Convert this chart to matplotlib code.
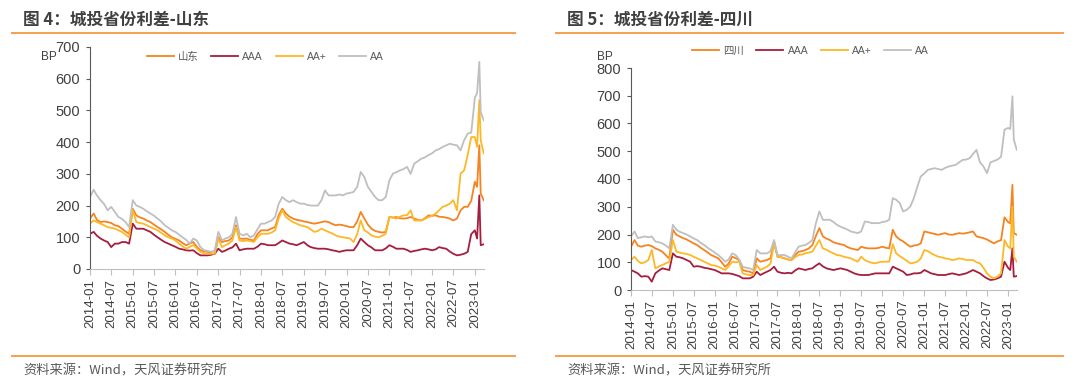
import numpy as np
import pandas as pd
import matplotlib
matplotlib.use('Agg')
import matplotlib.pyplot as plt
import matplotlib.dates as mdates
from matplotlib.lines import Line2D

W, H = 1080, 385

# dates: monthly to 2022-12, then a few points for the early-2023 spike
dates = list(pd.date_range('2014-01-01', '2022-12-01', freq='MS')) + \
    list(pd.to_datetime(['2023-01-01', '2023-01-20', '2023-02-08', '2023-02-20', '2023-03-18']))

# ---------------- 山东 ----------------
sd = [159, 175, 155, 148, 150, 148, 145, 138, 135, 127, 118, 111,
      190, 169, 163, 159, 153, 148, 140, 132, 125, 117, 108, 100,
      95, 90, 82, 75, 80, 85, 70, 59, 56, 54, 50, 48,
      100, 85, 88, 90, 100, 138, 96, 95, 96, 92, 90, 110,
      122, 122, 122, 128, 132, 170, 190, 175, 165, 159, 155, 153,
      150, 148, 145, 143, 145, 148, 150, 148, 142, 138, 140, 138,
      135, 132, 132, 150, 180, 159, 140, 127, 120, 117, 115, 117,
      164, 162, 164, 160, 159, 160, 164, 159, 155, 153, 160, 169,
      168, 169, 165, 164, 162, 159, 153, 159, 185, 196, 196, 215,
      275, 259, 390, 238, 217]
sd_aaa = [111, 117, 105, 96, 90, 85, 69, 80, 80, 85, 85, 80,
          143, 127, 127, 127, 122, 117, 108, 100, 92, 85, 80, 75,
          70, 64, 62, 59, 58, 59, 50, 43, 43, 43, 45, 48,
          64, 54, 58, 64, 68, 80, 59, 62, 64, 64, 64, 70,
          80, 78, 75, 75, 75, 82, 90, 85, 80, 78, 75, 80,
          85, 75, 69, 66, 64, 64, 64, 62, 59, 57, 54, 57,
          59, 59, 59, 75, 96, 85, 75, 68, 59, 59, 59, 65,
          75, 70, 64, 64, 64, 60, 54, 57, 59, 62, 64, 62,
          59, 62, 69, 66, 64, 55, 48, 43, 45, 48, 54, 110,
          122, 96, 232, 75, 78]
sd_aap = [143, 153, 148, 143, 138, 132, 130, 127, 122, 117, 108, 100,
          185, 148, 145, 143, 138, 132, 127, 122, 114, 106, 100, 96,
          90, 80, 72, 64, 70, 75, 65, 54, 50, 48, 48, 48,
          96, 69, 75, 80, 90, 132, 90, 88, 90, 88, 85, 100,
          111, 111, 111, 115, 122, 160, 185, 164, 155, 148, 143, 138,
          135, 132, 125, 117, 120, 127, 122, 117, 112, 106, 102, 100,
          98, 96, 85, 110, 153, 122, 115, 106, 102, 100, 105, 111,
          164, 162, 159, 165, 169, 170, 185, 153, 153, 153, 158, 164,
          168, 175, 185, 196, 200, 206, 217, 185, 301, 311, 360, 416,
          416, 385, 532, 406, 364]
sd_aa = [227, 250, 232, 217, 205, 185, 196, 180, 164, 158, 148, 132,
         217, 200, 196, 190, 182, 175, 168, 159, 150, 138, 130, 122,
         117, 108, 100, 92, 80, 96, 90, 69, 59, 57, 54, 59,
         117, 90, 96, 100, 111, 164, 111, 106, 111, 100, 106, 125,
         143, 143, 148, 153, 164, 206, 227, 217, 211, 217, 211, 206,
         206, 202, 200, 200, 200, 217, 248, 232, 232, 232, 235, 232,
         238, 240, 243, 259, 306, 290, 259, 243, 227, 217, 217, 227,
         280, 301, 305, 311, 315, 322, 300, 332, 340, 348, 352, 359,
         365, 374, 378, 385, 390, 395, 392, 390, 374, 406, 427, 430,
         540, 555, 653, 495, 469]

# ---------------- 四川 ----------------
sc = [156, 180, 160, 156, 160, 162, 158, 150, 145, 138, 125, 114,
      217, 199, 193, 187, 182, 175, 168, 162, 152, 144, 135, 126,
      120, 114, 100, 84, 95, 120, 115, 108, 72, 68, 66, 60,
      114, 102, 105, 108, 115, 175, 120, 118, 114, 110, 108, 125,
      138, 140, 144, 150, 162, 195, 223, 193, 185, 180, 172, 168,
      165, 162, 155, 150, 147, 144, 156, 152, 150, 150, 150, 152,
      156, 152, 150, 217, 193, 182, 175, 165, 156, 160, 162, 168,
      211, 208, 205, 202, 199, 202, 205, 200, 199, 202, 205, 203,
      205, 208, 211, 193, 190, 187, 182, 175, 168, 175, 180, 262,
      245, 240, 379, 205, 199]
sc_aaa = [72, 66, 60, 48, 50, 48, 30, 60, 70, 78, 75, 72,
          132, 120, 118, 114, 108, 102, 84, 86, 84, 80, 78, 75,
          72, 66, 60, 60, 60, 58, 54, 50, 42, 42, 42, 48,
          66, 54, 60, 66, 72, 84, 66, 62, 60, 62, 60, 70,
          78, 75, 72, 76, 78, 88, 96, 85, 78, 75, 72, 75,
          78, 75, 72, 66, 60, 56, 54, 54, 54, 57, 60, 60,
          60, 60, 60, 84, 78, 72, 66, 54, 56, 60, 60, 62,
          72, 66, 60, 57, 54, 54, 54, 57, 60, 57, 54, 57,
          60, 66, 72, 66, 60, 50, 42, 36, 38, 42, 48, 102,
          80, 72, 150, 48, 50]
sc_aap = [108, 120, 105, 96, 100, 108, 144, 78, 85, 90, 96, 102,
          180, 138, 135, 132, 130, 126, 120, 114, 108, 102, 96, 90,
          88, 84, 78, 72, 85, 102, 100, 102, 60, 56, 54, 54,
          90, 72, 78, 84, 95, 168, 120, 118, 114, 110, 108, 118,
          126, 128, 132, 135, 138, 160, 180, 150, 145, 138, 132, 126,
          124, 120, 117, 114, 108, 102, 120, 108, 102, 98, 96, 100,
          102, 102, 102, 165, 132, 122, 114, 105, 96, 98, 102, 114,
          144, 140, 132, 126, 120, 118, 114, 112, 108, 110, 114, 112,
          108, 108, 108, 100, 96, 80, 60, 48, 42, 48, 60, 180,
          156, 150, 301, 120, 102]
sc_aa = [193, 211, 187, 190, 193, 190, 193, 175, 172, 168, 160, 150,
         235, 217, 210, 205, 200, 193, 186, 180, 170, 162, 152, 144,
         135, 126, 115, 102, 110, 132, 126, 110, 84, 80, 78, 72,
         144, 132, 132, 132, 140, 180, 126, 126, 126, 120, 114, 135,
         156, 160, 162, 170, 180, 241, 283, 253, 253, 253, 245, 235,
         228, 223, 218, 211, 208, 205, 211, 247, 245, 241, 241, 241,
         245, 247, 253, 331, 325, 313, 283, 289, 301, 330, 372, 409,
         420, 433, 436, 439, 436, 433, 440, 445, 448, 451, 460, 469,
         470, 475, 490, 505, 460, 445, 421, 460, 465, 470, 480, 578,
         584, 580, 698, 542, 505]

series_names_sd = ['山东', 'AAA', 'AA+', 'AA']
series_names_sc = ['四川', 'AAA', 'AA+', 'AA']
colors = ['#F5831F', '#A51E3E', '#FDB827', '#BFBFBF']
tick_dates = pd.date_range('2014-01-01', '2023-01-01', freq='6MS')

orange = '#F7A04E'
txt = '#404040'
cjk = ['Liberation Sans', 'Noto Sans CJK SC']

fig = plt.figure(figsize=(W / 100, H / 100), dpi=100)


def panel(rect, data, names, ymax, title, tx, leg_anchor, bp_xy):
    ax = fig.add_axes(rect)
    for vals, name, c in zip(data, names, colors):
        ax.plot(dates, vals, color=c, lw=1.3, label=name)
    ax.set_xlim(pd.Timestamp('2014-01-01'), pd.Timestamp('2023-03-20'))
    ax.set_ylim(0, ymax)
    ax.set_yticks(np.arange(0, ymax + 1, 100))
    ax.set_xticks(tick_dates)
    ax.xaxis.set_major_formatter(mdates.DateFormatter('%Y-%m'))
    for s in ['top', 'right']:
        ax.spines[s].set_visible(False)
    ax.spines['left'].set_color('#595959')
    ax.spines['bottom'].set_color('#BFBFBF')
    ax.tick_params(axis='y', length=3, color='#595959', labelsize=10.5,
                   labelcolor=txt, pad=4)
    ax.tick_params(axis='x', length=4, color='#BFBFBF', labelsize=9.5,
                   labelcolor=txt, rotation=90, pad=3)
    for lab in ax.get_xticklabels() + ax.get_yticklabels():
        lab.set_family('Liberation Sans')
    leg = ax.legend(loc='center', bbox_to_anchor=leg_anchor, ncol=4, frameon=False,
                    handlelength=2.6, handletextpad=0.4, columnspacing=1.2,
                    prop={'family': cjk, 'size': 7.5})
    for t in leg.get_texts():
        t.set_color('#595959')
    fig.text(bp_xy[0] / W, 1 - bp_xy[1] / H, 'BP', fontsize=8.5, color=txt,
             family='Liberation Sans', va='center', ha='left')
    fig.text(tx / W, 1 - 20 / H, title, fontsize=12, fontweight='bold', color=txt,
             family=['Noto Sans CJK SC', 'DejaVu Sans'], va='center', ha='left')
    return ax


panel([90 / W, 1 - 269 / H, 394 / W, 222 / H], [sd, sd_aaa, sd_aap, sd_aa],
      series_names_sd, 700, '图 4：城投省份利差-山东', 23,
      (0.445, 0.955), (41, 57))
panel([631 / W, 1 - 290 / H, 386 / W, 222 / H], [sc, sc_aaa, sc_aap, sc_aa],
      series_names_sc, 800, '图 5：城投省份利差-四川', 567,
      (0.465, 1.077), (597, 57))

# orange rules and source notes
for x0, x1 in [(12, 515), (556, 1063)]:
    fig.add_artist(Line2D([x0 / W, x1 / W], [1 - 33 / H] * 2, color=orange, lw=1.4))
    fig.add_artist(Line2D([x0 / W, x1 / W], [1 - 356 / H] * 2, color=orange, lw=1.4))
for x in [23, 567]:
    fig.text(x / W, 1 - 371 / H, '资料来源：Wind，天风证券研究所', fontsize=9.5,
             color='#595959', family=['Noto Sans CJK SC', 'DejaVu Sans'],
             va='center', ha='left')

fig.savefig('out.png', dpi=100)
